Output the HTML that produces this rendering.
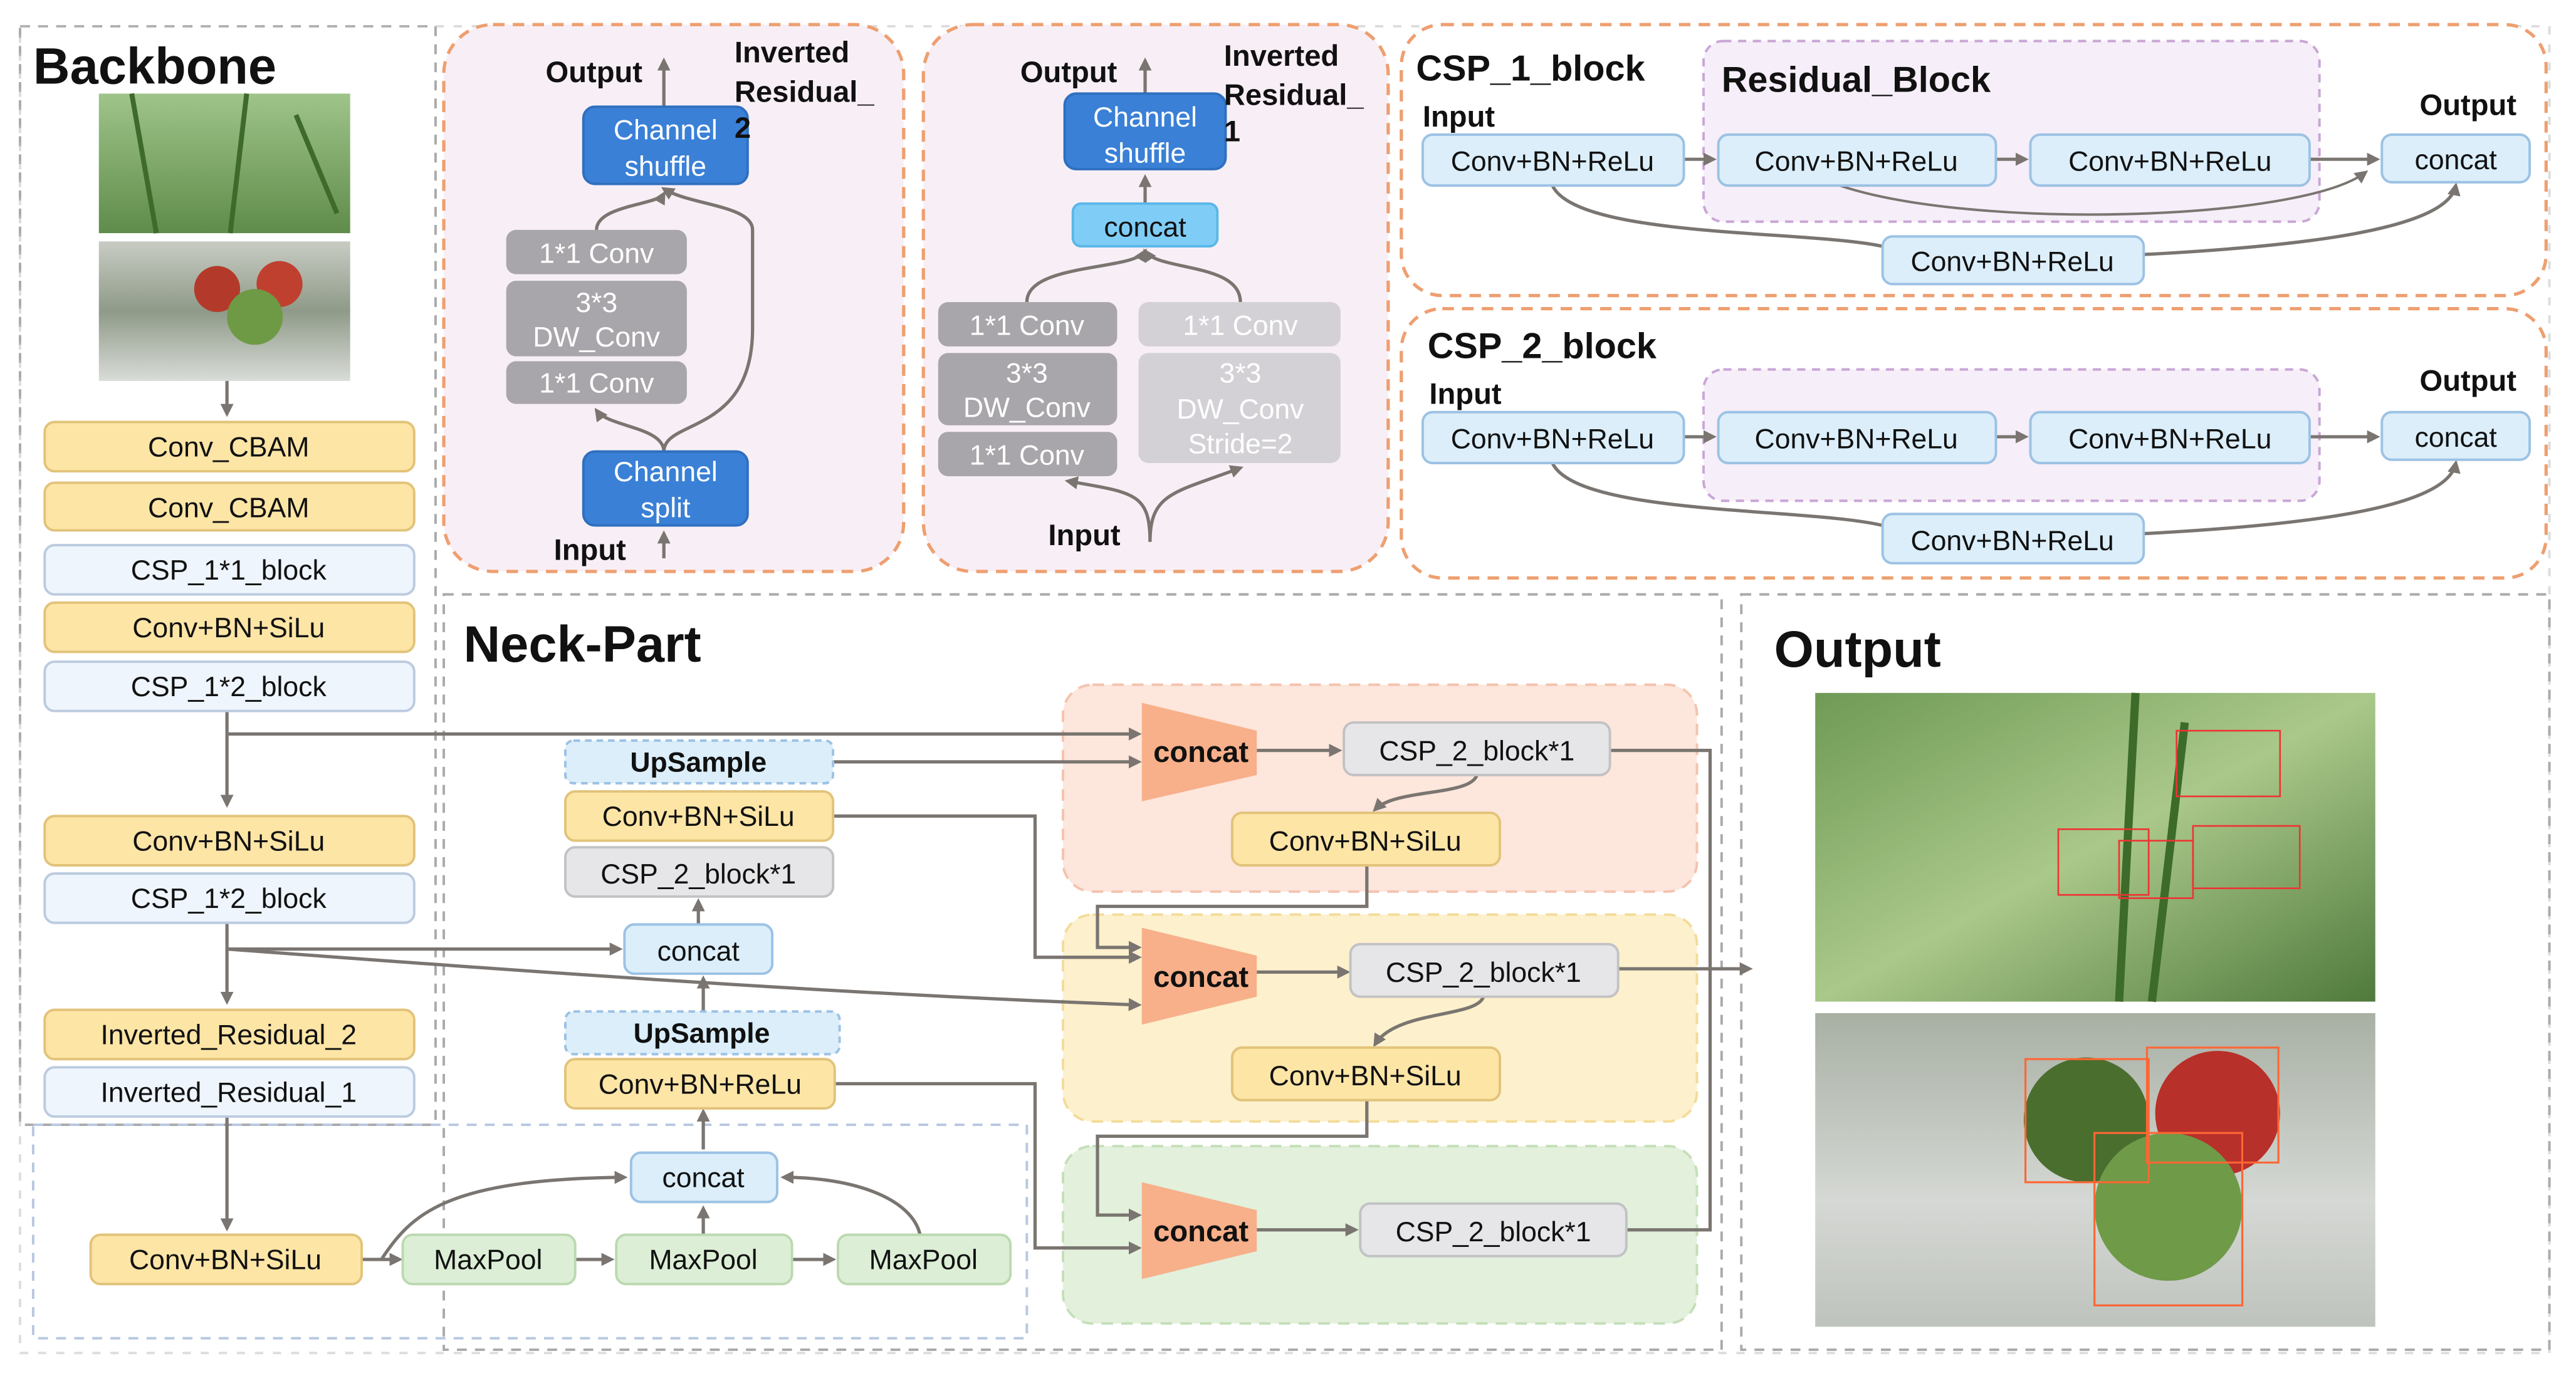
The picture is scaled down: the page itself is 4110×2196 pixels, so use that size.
<!DOCTYPE html>
<html><head><meta charset="utf-8"><style>
html,body{margin:0;padding:0;background:#fff;}
svg{display:block;}
text{font-family:"Liberation Sans",sans-serif;}
</style></head><body>
<svg width="4110" height="2196" viewBox="0 0 1568 838" xmlns="http://www.w3.org/2000/svg">
<defs>
<marker id="a" markerWidth="8" markerHeight="8" refX="6" refY="4" orient="auto" markerUnits="userSpaceOnUse"><path d="M0,0 L8,4 L0,8 z" fill="#7a7570"/></marker>
<linearGradient id="p1" x1="0" y1="0" x2="0" y2="1"><stop offset="0" stop-color="#9fc48a"/><stop offset="1" stop-color="#5f8c4a"/></linearGradient>
<linearGradient id="p2" x1="0" y1="0" x2="0" y2="1"><stop offset="0" stop-color="#c8ccc4"/><stop offset="0.5" stop-color="#8f9a88"/><stop offset="1" stop-color="#d9dcd8"/></linearGradient>
<linearGradient id="p3" x1="0" y1="0" x2="1" y2="1"><stop offset="0" stop-color="#6f9a55"/><stop offset="0.5" stop-color="#aac88a"/><stop offset="1" stop-color="#4f7a3c"/></linearGradient>
<linearGradient id="p4" x1="0" y1="0" x2="0" y2="1"><stop offset="0" stop-color="#a8b0a4"/><stop offset="0.6" stop-color="#d5d8d4"/><stop offset="1" stop-color="#bfc3bd"/></linearGradient>
</defs>
<g fill="none" stroke-dasharray="6,5" stroke-width="1.5">
<path d="M12,16 H265 V685 H12 Z" stroke="#aaa"/>
<rect x="20" y="685" width="605" height="130" stroke="#b8c8e0"/>
<rect x="12" y="16" width="1540" height="808" stroke="#bbb" stroke-dasharray="5,6" opacity="0.5"/>
<rect x="270" y="362" width="778" height="460" stroke="#aaa"/>
<rect x="1060" y="362" width="492" height="460" stroke="#aaa"/>
</g>
<g stroke="#ee9f70" stroke-width="2" stroke-dasharray="7,5" fill="#f8eff6">
<rect x="270" y="15" width="280" height="333" rx="30"/>
<rect x="562" y="15" width="283" height="333" rx="30"/>
<rect x="853" y="15" width="697" height="165" rx="25" fill="#fff"/>
<rect x="853" y="188" width="697" height="164" rx="25" fill="#fff"/>
</g>
<g stroke="#c9a6d6" stroke-width="1.5" stroke-dasharray="5,4" fill="#f6eef8">
<rect x="1037" y="25" width="375" height="110" rx="12"/>
<rect x="1037" y="225" width="375" height="80" rx="12"/>
</g>
<g stroke-width="1.5" stroke-dasharray="7,5">
<rect x="647" y="417" width="386" height="126" rx="18" fill="#fde6dc" stroke="#f4c3ae"/>
<rect x="647" y="557" width="386" height="126" rx="18" fill="#fdf0cc" stroke="#f3dc99"/>
<rect x="647" y="698" width="386" height="108" rx="18" fill="#e2f0dc" stroke="#c5dfb9"/>
</g>
<rect x="60" y="57" width="153" height="85" fill="url(#p1)"/>
<path d="M80,57 L95,142 M150,57 L140,142 M180,70 L205,130" stroke="#3e6a2c" stroke-width="3"/>
<rect x="60" y="147" width="153" height="85" fill="url(#p2)"/>
<circle cx="132" cy="176" r="14" fill="#b33a2a"/><circle cx="170" cy="173" r="14" fill="#c04030"/><circle cx="155" cy="193" r="17" fill="#6e9a45"/>
<rect x="1105" y="422" width="341" height="188" fill="url(#p3)"/>
<path d="M1300,422 L1290,610 M1330,440 L1310,610" stroke="#3c6b2a" stroke-width="5"/>
<g fill="none" stroke="#e33" stroke-width="1"><rect x="1325" y="445" width="63" height="40"/><rect x="1253" y="505" width="55" height="40"/><rect x="1335" y="503" width="65" height="38"/><rect x="1290" y="512" width="45" height="35"/></g>
<rect x="1105" y="617" width="341" height="191" fill="url(#p4)"/>
<circle cx="1270" cy="682" r="38" fill="#4a6e2e"/><circle cx="1350" cy="678" r="38" fill="#b8302a"/><circle cx="1320" cy="735" r="45" fill="#6f9a48"/>
<g fill="none" stroke="#f63" stroke-width="1.2"><rect x="1233" y="645" width="75" height="75"/><rect x="1307" y="638" width="80" height="70"/><rect x="1275" y="690" width="90" height="105"/></g>
<g stroke="#7a7570" stroke-width="2" fill="none" marker-end="url(#a)">
<path d="M138,232 V252"/>
<path d="M138,433 V490"/>
<path d="M138,562 V610"/>
<path d="M138,680 V748"/>
<path d="M220,767 H243"/>
<path d="M350,767 H372"/>
<path d="M482,767 H507"/>
<path d="M428,752 V736"/>
<path d="M232,767 C250,740 270,718 380,717"/>
<path d="M560,752 C555,730 520,717 477,717"/>
<path d="M428,700 V677"/>
<path d="M428,616 V596"/>
<path d="M425,563 V549"/>
<path d="M138,578 H377"/>
<path d="M138,578 C300,590 500,605 693,612"/>
<path d="M138,447 H693"/>
<path d="M507,464 H693"/>
<path d="M507,497 H630 V583 H693"/>
<path d="M508,660 H630 V760 H693"/>
<path d="M765,457 H815"/>
<path d="M765,592 H820"/>
<path d="M765,749 H825"/>
<path d="M899,472 C895,485 850,480 837,493"/>
<path d="M903,607 C899,620 850,615 837,636"/>
<path d="M832,527 V552 H668 V577 H693"/>
<path d="M832,670 V692 H668 V740 H693"/>
<path d="M980,457 H1041 V749 H990" marker-end="none"/>
<path d="M985,590 H1065"/>
<path d="M404,340 V325"/>
<path d="M404,65 V37"/>
<path d="M404,275 C404,260 370,260 363,250"/>
<path d="M404,275 C404,255 458,265 458,200 V140 C458,125 420,125 404,115"/>
<path d="M363,140 C363,125 400,125 404,118"/>
<path d="M697,57 V37"/>
<path d="M697,124 V108"/>
<path d="M625,184 C625,160 690,165 697,153"/>
<path d="M755,184 C755,160 705,165 697,153"/>
<path d="M700,330 C700,300 690,300 650,293"/>
<path d="M700,330 C700,300 715,300 755,285"/>
<path d="M1025,97 H1043"/><path d="M1215,97 H1233"/><path d="M1406,97 H1447"/>
<path d="M945,113 C960,145 1100,140 1146,150" marker-end="none"/>
<path d="M1305,155 C1400,150 1490,140 1495,113"/>
<path d="M1120,113 C1200,140 1400,135 1440,105" stroke-width="1.5"/>
<path d="M1025,266 H1043"/><path d="M1215,266 H1233"/><path d="M1406,266 H1447"/>
<path d="M945,282 C960,314 1100,309 1146,320" marker-end="none"/>
<path d="M1305,325 C1400,320 1490,310 1495,282"/>
</g>
<g fill="#f7b08a">
<path d="M695,428 L765,445 L765,472 L695,488 Z"/>
<path d="M695,565 L765,582 L765,607 L695,624 Z"/>
<path d="M695,720 L765,737 L765,762 L695,779 Z"/>
</g>
<g font-weight="bold" font-size="18" text-anchor="middle" fill="#111">
<text x="731" y="464">concat</text><text x="731" y="601">concat</text><text x="731" y="756">concat</text>
</g>
<g font-size="17" text-anchor="middle" stroke-width="1.5">
<g fill="#fde5a6" stroke="#e2c37a">
<rect x="27" y="257" width="225" height="30" rx="6"/><rect x="27" y="294" width="225" height="29" rx="6"/>
<rect x="27" y="367" width="225" height="30" rx="6"/><rect x="27" y="497" width="225" height="30" rx="6"/>
<rect x="27" y="615" width="225" height="30" rx="6"/>
<rect x="55" y="752" width="165" height="30" rx="6"/>
<rect x="344" y="482" width="163" height="30" rx="6"/><rect x="344" y="645" width="164" height="30" rx="6"/>
<rect x="750" y="495" width="163" height="32" rx="6"/><rect x="750" y="638" width="163" height="32" rx="6"/>
</g>
<g fill="#eef5fc" stroke="#bccbdf">
<rect x="27" y="332" width="225" height="30" rx="6"/><rect x="27" y="403" width="225" height="30" rx="6"/>
<rect x="27" y="532" width="225" height="30" rx="6"/><rect x="27" y="650" width="225" height="30" rx="6"/>
</g>
<g fill="#dbeefa" stroke="#9cc2e4">
<rect x="380" y="563" width="90" height="30" rx="6"/><rect x="384" y="702" width="89" height="30" rx="6"/>
<rect x="866" y="82" width="159" height="31" rx="6"/><rect x="1046" y="82" width="169" height="31" rx="6"/><rect x="1236" y="82" width="170" height="31" rx="6"/><rect x="1450" y="82" width="90" height="29" rx="6"/><rect x="1146" y="144" width="159" height="29" rx="6"/>
<rect x="866" y="251" width="159" height="31" rx="6"/><rect x="1046" y="251" width="169" height="31" rx="6"/><rect x="1236" y="251" width="170" height="31" rx="6"/><rect x="1450" y="251" width="90" height="29" rx="6"/><rect x="1146" y="313" width="159" height="30" rx="6"/>
</g>
<g fill="#dbeefa" stroke="#9cc2e4" stroke-dasharray="4,3">
<rect x="344" y="451" width="163" height="26" rx="5"/><rect x="344" y="616" width="167" height="26" rx="5"/>
</g>
<g fill="#e6e6e8" stroke="#c2c2c4">
<rect x="344" y="516" width="163" height="30" rx="6"/>
<rect x="818" y="440" width="162" height="32" rx="6"/><rect x="822" y="575" width="163" height="32" rx="6"/><rect x="828" y="733" width="162" height="32" rx="6"/>
</g>
<g fill="#dcefd6" stroke="#bcd9b0">
<rect x="245" y="752" width="105" height="30" rx="6"/><rect x="375" y="752" width="107" height="30" rx="6"/><rect x="510" y="752" width="105" height="30" rx="6"/>
</g>
<g fill="#3a80d6" stroke="#2f6fbf">
<rect x="355" y="65" width="100" height="47" rx="7"/><rect x="355" y="275" width="100" height="45" rx="7"/><rect x="648" y="57" width="98" height="46" rx="7"/>
</g>
<rect x="653" y="124" width="88" height="26" rx="5" fill="#7fcdf6" stroke="#5ab7e8"/>
<g fill="#a8a6aa" stroke="none">
<rect x="308" y="140" width="110" height="27" rx="6"/><rect x="308" y="171" width="110" height="46" rx="6"/><rect x="308" y="220" width="110" height="26" rx="6"/>
<rect x="571" y="184" width="109" height="27" rx="6"/><rect x="571" y="215" width="109" height="44" rx="6"/><rect x="571" y="263" width="109" height="27" rx="6"/>
</g>
<g fill="#d3d1d5" stroke="none">
<rect x="693" y="184" width="123" height="27" rx="6"/><rect x="693" y="215" width="123" height="67" rx="6"/>
</g>
<g fill="#111" stroke="none">
<text x="139" y="278">Conv_CBAM</text><text x="139" y="315">Conv_CBAM</text><text x="139" y="353">CSP_1*1_block</text>
<text x="139" y="388">Conv+BN+SiLu</text><text x="139" y="424">CSP_1*2_block</text><text x="139" y="518">Conv+BN+SiLu</text>
<text x="139" y="553">CSP_1*2_block</text><text x="139" y="636">Inverted_Residual_2</text><text x="139" y="671">Inverted_Residual_1</text>
<text x="137" y="773">Conv+BN+SiLu</text><text x="297" y="773">MaxPool</text><text x="428" y="773">MaxPool</text><text x="562" y="773">MaxPool</text>
<text x="428" y="723">concat</text><text x="425" y="585">concat</text>
<text x="425" y="538">CSP_2_block*1</text><text x="425" y="503">Conv+BN+SiLu</text><text x="426" y="666">Conv+BN+ReLu</text>
<text x="425" y="470" font-weight="bold">UpSample</text><text x="427" y="635" font-weight="bold">UpSample</text>
<text x="899" y="463">CSP_2_block*1</text><text x="903" y="598">CSP_2_block*1</text><text x="909" y="756">CSP_2_block*1</text>
<text x="831" y="518">Conv+BN+SiLu</text><text x="831" y="661">Conv+BN+SiLu</text>
<text x="945" y="104">Conv+BN+ReLu</text><text x="1130" y="104">Conv+BN+ReLu</text><text x="1321" y="104">Conv+BN+ReLu</text><text x="1495" y="103">concat</text><text x="1225" y="165">Conv+BN+ReLu</text>
<text x="945" y="273">Conv+BN+ReLu</text><text x="1130" y="273">Conv+BN+ReLu</text><text x="1321" y="273">Conv+BN+ReLu</text><text x="1495" y="272">concat</text><text x="1225" y="335">Conv+BN+ReLu</text>
<text x="697" y="144">concat</text>
</g>
<g fill="#fff" stroke="none">
<text x="405" y="85">Channel</text><text x="405" y="107">shuffle</text>
<text x="405" y="293">Channel</text><text x="405" y="315">split</text>
<text x="697" y="77">Channel</text><text x="697" y="99">shuffle</text>
<text x="363" y="160">1*1 Conv</text><text x="363" y="190">3*3</text><text x="363" y="211">DW_Conv</text><text x="363" y="239">1*1 Conv</text>
<text x="625" y="204">1*1 Conv</text><text x="625" y="233">3*3</text><text x="625" y="254">DW_Conv</text><text x="625" y="283">1*1 Conv</text>
<text x="755" y="204">1*1 Conv</text><text x="755" y="233">3*3</text><text x="755" y="255">DW_Conv</text><text x="755" y="276">Stride=2</text>
</g>
</g>
<g font-weight="bold" fill="#111">
<text x="20" y="51" font-size="31">Backbone</text>
<text x="282" y="403" font-size="31">Neck-Part</text>
<text x="1080" y="406" font-size="31">Output</text>
<text x="862" y="49" font-size="22">CSP_1_block</text>
<text x="1048" y="56" font-size="22">Residual_Block</text>
<text x="869" y="218" font-size="22">CSP_2_block</text>
<g font-size="18">
<text x="866" y="77">Input</text><text x="1473" y="70">Output</text>
<text x="870" y="246">Input</text><text x="1473" y="238">Output</text>
<text x="332" y="50">Output</text><text x="337" y="341">Input</text>
<text x="447" y="38">Inverted</text><text x="447" y="62">Residual_</text><text x="447" y="84">2</text>
<text x="621" y="50">Output</text><text x="638" y="332">Input</text>
<text x="745" y="40">Inverted</text><text x="745" y="64">Residual_</text><text x="745" y="86">1</text>
</g>
</g>
</svg>
</body></html>
